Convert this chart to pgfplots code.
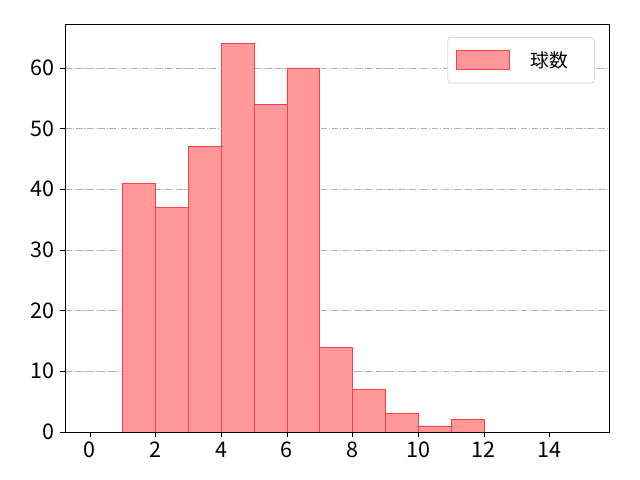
\documentclass[border=0pt]{standalone}
\usepackage{fontspec}
\setmainfont{Noto Sans CJK JP}
\usepackage{pgfplots}
\pgfplotsset{compat=1.18}
\definecolor{barfill}{RGB}{255,153,153}
\definecolor{baredge}{RGB}{255,64,64}
\definecolor{gridgray}{RGB}{176,176,176}
\definecolor{legedge}{RGB}{214,214,214}
\begin{document}
\begin{tikzpicture}[x=1pt,y=1pt]
    \begin{axis}[
        name=ax,
        scale only axis,
        width=391.7pt,
        height=293.8pt,
        xmin=-0.76, xmax=15.81,
        ymin=0, ymax=67.25,
        xtick={0,2,...,14},
        ytick={0,10,...,60},
        ymajorgrids=true,
        grid style={gridgray, line width=0.55pt, dash pattern=on 4.8pt off 1.2pt on 0.8pt off 1.2pt},
        axis line style={black, line width=0.6pt},
        tick style={black, line width=0.6pt},
        tick align=outside,
        major tick length=3.6pt,
        xtick pos=bottom, ytick pos=left,
        /pgf/number format/assume math mode=true,
        ticklabel style={font=\fontsize{15.5}{18}\selectfont},
        yticklabel style={xshift=-0.5pt},
        legend style={
            at={(0.974,0.968)}, anchor=north east,
            draw=legedge, rounded corners=2.5pt, line width=0.6pt,
            font=\fontsize{13.5}{16}\selectfont,
            inner xsep=6pt, inner ysep=8pt,
            cells={anchor=west},
        },
        legend image code/.code={
            \draw[#1, sharp corners] (0pt,-6.8pt) rectangle (38pt,6.8pt);
        },
    ]
        \addplot[ybar interval, fill=barfill, draw=baredge, line width=0.6pt]
            coordinates {(1,41) (2,37) (3,47) (4,64) (5,54) (6,60)
                         (7,14) (8,7) (9,3) (10,1) (11,2) (12,2)};
        \addlegendentry{\hspace{13pt}球数\hspace*{11pt}}
    \end{axis}
    \path (ax.south west) ++(-46.8pt,-34.56pt) rectangle ++(460.8pt,345.6pt);
\end{tikzpicture}
\end{document}
